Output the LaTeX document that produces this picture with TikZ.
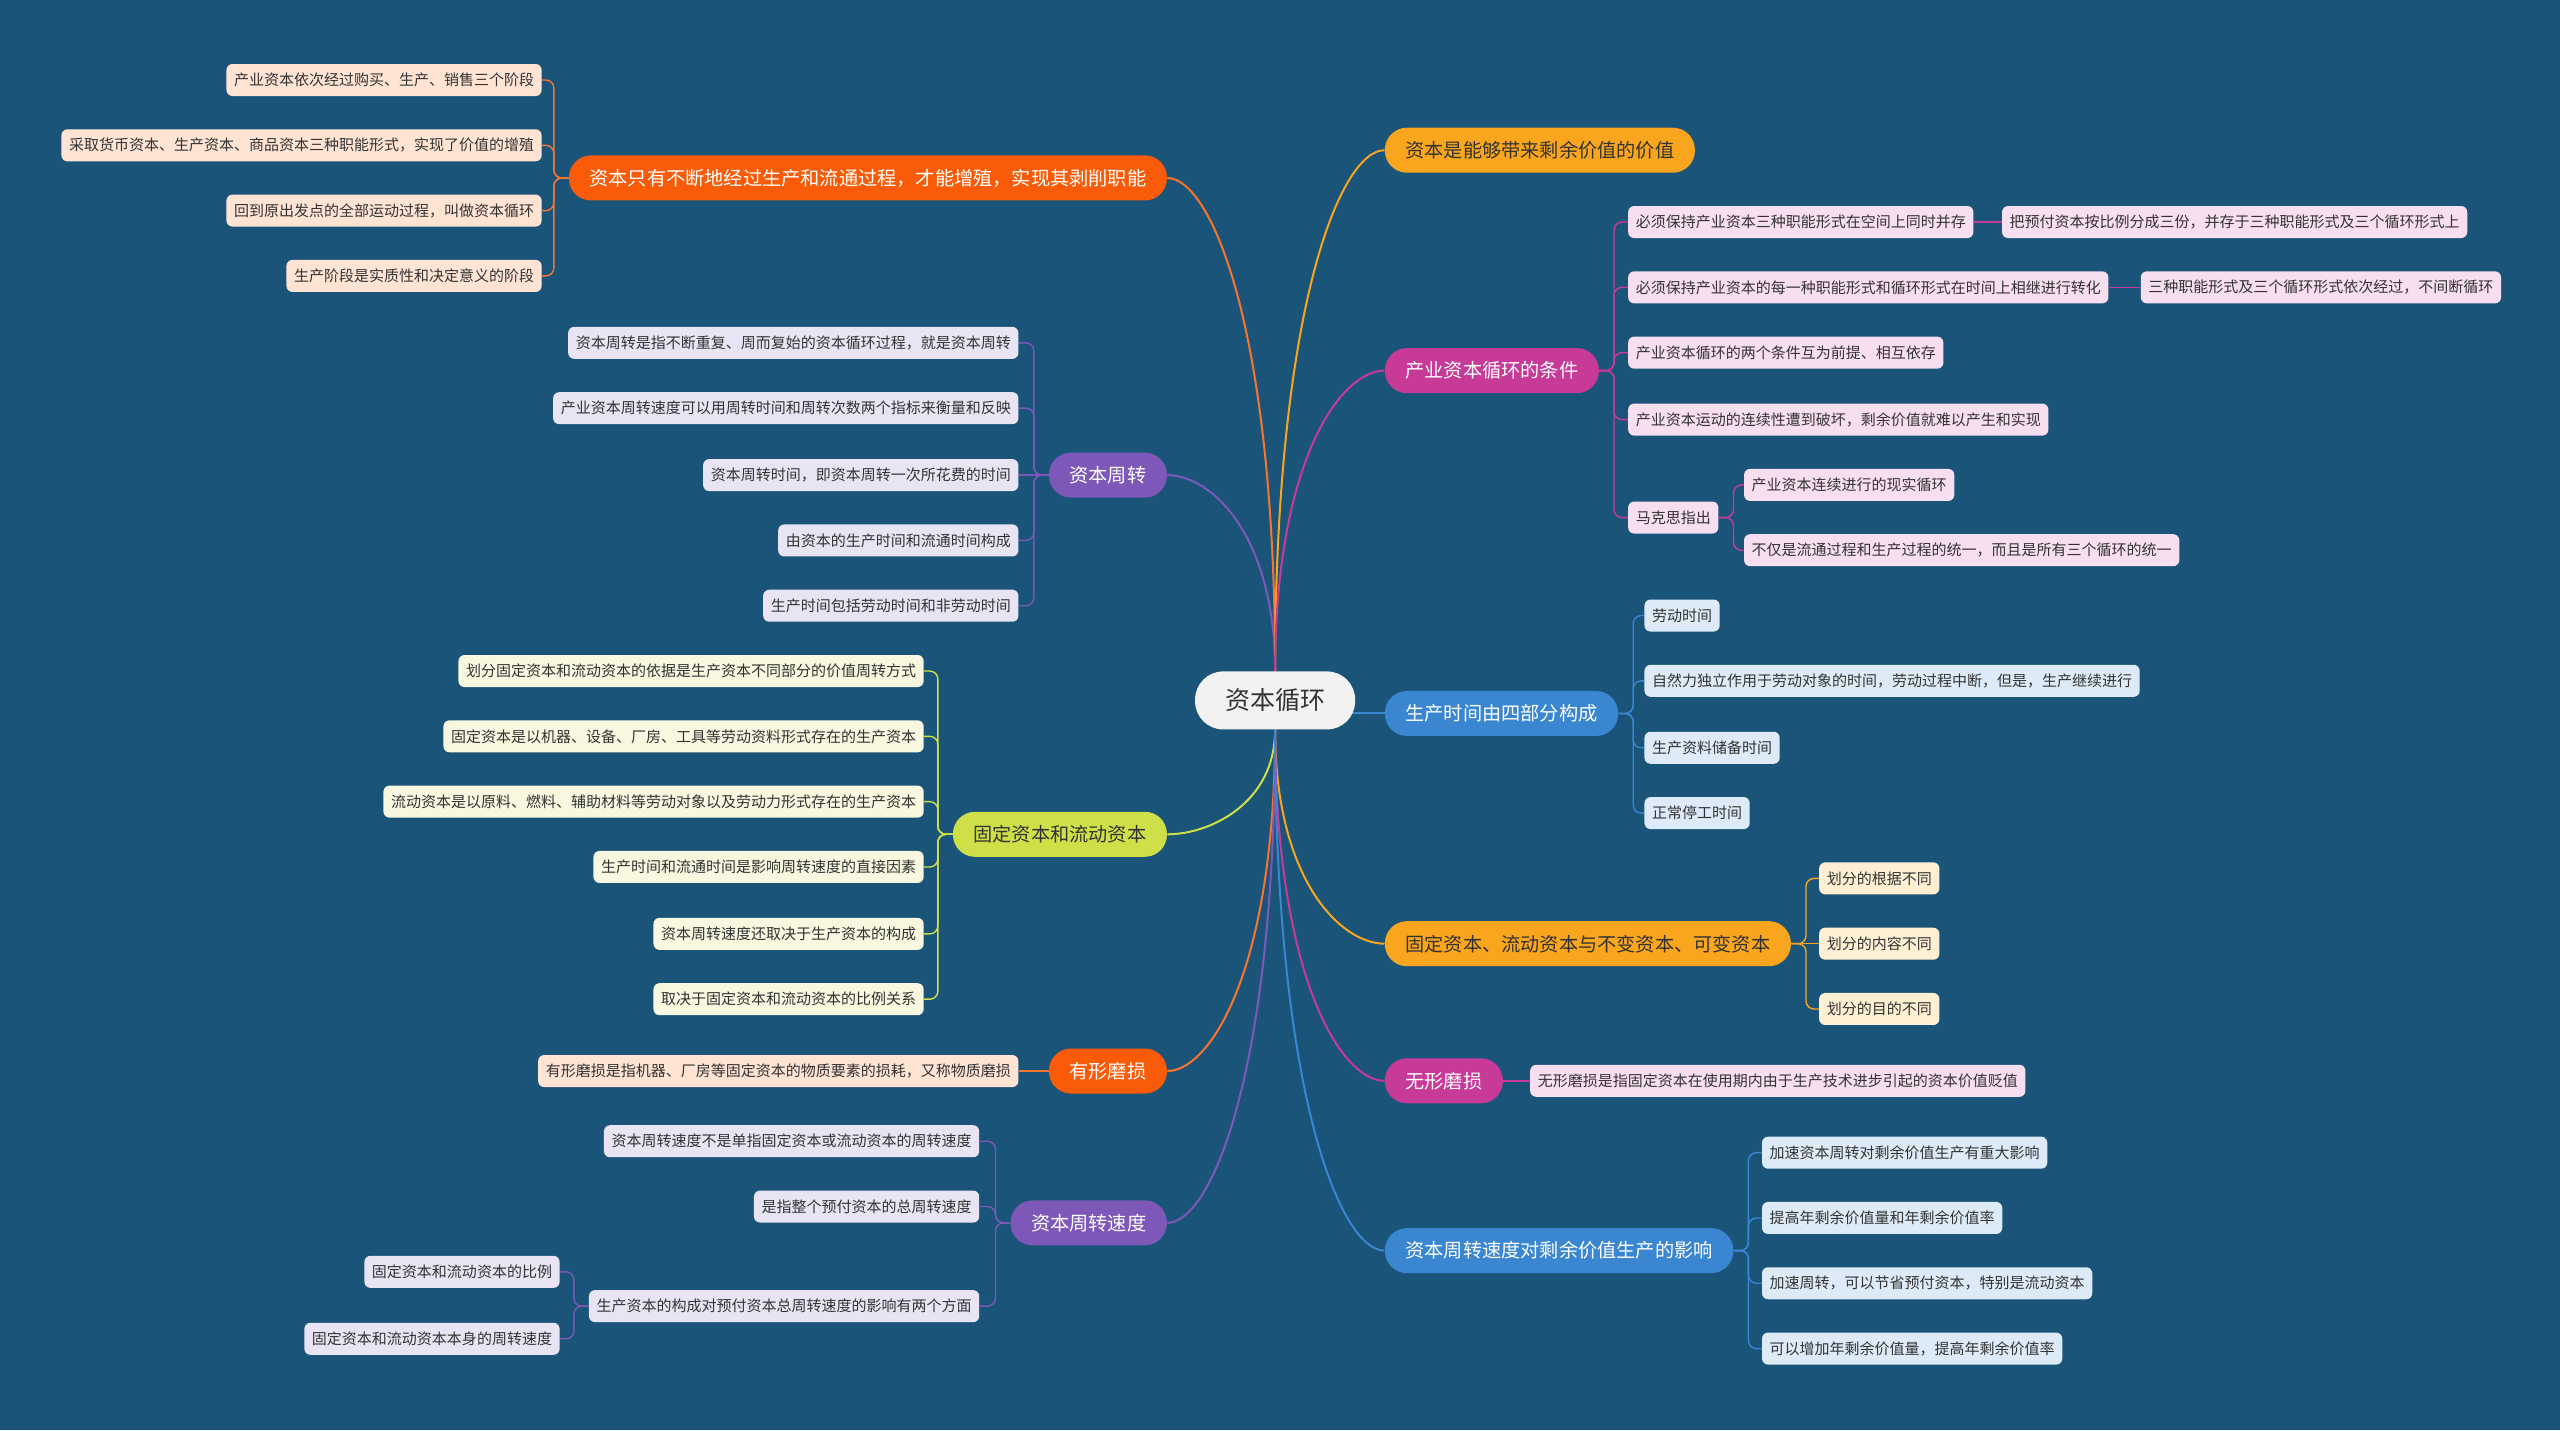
\documentclass[tikz,border=0pt]{standalone}
\usepackage{fontspec}
\setmainfont{Noto Sans CJK SC}
\usetikzlibrary{calc}
\pgfdeclarelayer{background}
\pgfsetlayers{background,main}

\definecolor{bgblue}{HTML}{1A5479}
\definecolor{hubgray}{HTML}{F2F2F2}
\definecolor{inkdark}{HTML}{333333}
\definecolor{redorange}{HTML}{F95B08}
\definecolor{peach}{HTML}{FFE4D4}
\definecolor{amber}{HTML}{F9A51D}
\definecolor{cream}{HTML}{FFF0D4}
\definecolor{rosy}{HTML}{C73A98}
\definecolor{pinkleaf}{HTML}{F8DEF1}
\definecolor{grape}{HTML}{7D58B8}
\definecolor{lilac}{HTML}{E9E4F4}
\definecolor{skyblue}{HTML}{3A86D1}
\definecolor{iceblue}{HTML}{DDEBF8}
\definecolor{chartreuse}{HTML}{CFDF47}
\definecolor{ivory}{HTML}{F7F8DF}

\begin{document}
\begin{tikzpicture}[x=0.8163pt, y=-0.8163pt,
	hub/.style={fill=hubgray, text=inkdark, rounded corners=14pt, minimum height=29pt, inner xsep=15pt, inner ysep=0pt, font=\fontsize{12.5}{14}\selectfont},
	limb/.style={rounded corners=11pt, minimum height=22.5pt, inner xsep=10.3pt, inner ysep=0pt, text=white, font=\fontsize{9.6}{11}\selectfont},
	twig/.style={rounded corners=3pt, minimum height=16pt, inner xsep=3.8pt, inner ysep=0pt, text=inkdark, font=\fontsize{7.5}{9}\selectfont},
	bough/.style={line width=1pt, to path={.. controls ($(\tikztostart)!0.7!(\tikztostart |- \tikztotarget)$) and ($(\tikztotarget)!0.4!(\tikztostart |- \tikztotarget)$) .. (\tikztotarget)}},
	forkl/.style={line width=0.7pt, rounded corners=4pt, to path={-- ++(-9,0) |- (\tikztotarget)}},
	forkr/.style={line width=0.7pt, rounded corners=4pt, to path={-- ++(9,0) |- (\tikztotarget)}}]

	\useasboundingbox (0,0) rectangle (1568,876);

	\node[hub] (hub) at (781,429) {资本循环};

	% left side
	\node[limb, fill=redorange, anchor=east] (a) at (715,109) {资本只有不断地经过生产和流通过程，才能增殖，实现其剥削职能};
	\node[twig, fill=peach, anchor=east] (a1) at (332,49) {产业资本依次经过购买、生产、销售三个阶段};
	\node[twig, fill=peach, anchor=east] (a2) at (332,89) {采取货币资本、生产资本、商品资本三种职能形式，实现了价值的增殖};
	\node[twig, fill=peach, anchor=east] (a3) at (332,129) {回到原出发点的全部运动过程，叫做资本循环};
	\node[twig, fill=peach, anchor=east] (a4) at (332,169) {生产阶段是实质性和决定意义的阶段};

	\node[limb, fill=grape, anchor=east] (b) at (715,291) {资本周转};
	\node[twig, fill=lilac, anchor=east] (b1) at (624,210) {资本周转是指不断重复、周而复始的资本循环过程，就是资本周转};
	\node[twig, fill=lilac, anchor=east] (b2) at (624,250) {产业资本周转速度可以用周转时间和周转次数两个指标来衡量和反映};
	\node[twig, fill=lilac, anchor=east] (b3) at (624,291) {资本周转时间，即资本周转一次所花费的时间};
	\node[twig, fill=lilac, anchor=east] (b4) at (624,331) {由资本的生产时间和流通时间构成};
	\node[twig, fill=lilac, anchor=east] (b5) at (624,371) {生产时间包括劳动时间和非劳动时间};

	\node[limb, fill=chartreuse, text=inkdark, anchor=east] (c) at (715,511) {固定资本和流动资本};
	\node[twig, fill=ivory, anchor=east] (c1) at (566,411) {划分固定资本和流动资本的依据是生产资本不同部分的价值周转方式};
	\node[twig, fill=ivory, anchor=east] (c2) at (566,451) {固定资本是以机器、设备、厂房、工具等劳动资料形式存在的生产资本};
	\node[twig, fill=ivory, anchor=east] (c3) at (566,491) {流动资本是以原料、燃料、辅助材料等劳动对象以及劳动力形式存在的生产资本};
	\node[twig, fill=ivory, anchor=east] (c4) at (566,531) {生产时间和流通时间是影响周转速度的直接因素};
	\node[twig, fill=ivory, anchor=east] (c5) at (566,572) {资本周转速度还取决于生产资本的构成};
	\node[twig, fill=ivory, anchor=east] (c6) at (566,612) {取决于固定资本和流动资本的比例关系};

	\node[limb, fill=redorange, anchor=east] (d) at (715,656) {有形磨损};
	\node[twig, fill=peach, anchor=east] (d1) at (624,656) {有形磨损是指机器、厂房等固定资本的物质要素的损耗，又称物质磨损};

	\node[limb, fill=grape, anchor=east] (e) at (715,749) {资本周转速度};
	\node[twig, fill=lilac, anchor=east] (e1) at (600,699) {资本周转速度不是单指固定资本或流动资本的周转速度};
	\node[twig, fill=lilac, anchor=east] (e2) at (600,739) {是指整个预付资本的总周转速度};
	\node[twig, fill=lilac, anchor=east] (e3) at (600,800) {生产资本的构成对预付资本总周转速度的影响有两个方面};
	\node[twig, fill=lilac, anchor=east] (e3a) at (343,779) {固定资本和流动资本的比例};
	\node[twig, fill=lilac, anchor=east] (e3b) at (343,820) {固定资本和流动资本本身的周转速度};

	% right side
	\node[limb, fill=amber, text=inkdark, anchor=west] (f) at (848,92) {资本是能够带来剩余价值的价值};

	\node[limb, fill=rosy, anchor=west] (g) at (848,227) {产业资本循环的条件};
	\node[twig, fill=pinkleaf, anchor=west] (g1) at (997,136) {必须保持产业资本三种职能形式在空间上同时并存};
	\node[twig, fill=pinkleaf, anchor=west] (g1a) at (1226,136) {把预付资本按比例分成三份，并存于三种职能形式及三个循环形式上};
	\node[twig, fill=pinkleaf, anchor=west] (g2) at (997,176) {必须保持产业资本的每一种职能形式和循环形式在时间上相继进行转化};
	\node[twig, fill=pinkleaf, anchor=west] (g2a) at (1311,176) {三种职能形式及三个循环形式依次经过，不间断循环};
	\node[twig, fill=pinkleaf, anchor=west] (g3) at (997,216) {产业资本循环的两个条件互为前提、相互依存};
	\node[twig, fill=pinkleaf, anchor=west] (g4) at (997,257) {产业资本运动的连续性遭到破坏，剩余价值就难以产生和实现};
	\node[twig, fill=pinkleaf, anchor=west] (g5) at (997,317) {马克思指出};
	\node[twig, fill=pinkleaf, anchor=west] (g5a) at (1068,297) {产业资本连续进行的现实循环};
	\node[twig, fill=pinkleaf, anchor=west] (g5b) at (1068,337) {不仅是流通过程和生产过程的统一，而且是所有三个循环的统一};

	\node[limb, fill=skyblue, anchor=west] (h) at (848,437) {生产时间由四部分构成};
	\node[twig, fill=iceblue, anchor=west] (h1) at (1007,377) {劳动时间};
	\node[twig, fill=iceblue, anchor=west] (h2) at (1007,417) {自然力独立作用于劳动对象的时间，劳动过程中断，但是，生产继续进行};
	\node[twig, fill=iceblue, anchor=west] (h3) at (1007,458) {生产资料储备时间};
	\node[twig, fill=iceblue, anchor=west] (h4) at (1007,498) {正常停工时间};

	\node[limb, fill=amber, text=inkdark, anchor=west] (i) at (848,578) {固定资本、流动资本与不变资本、可变资本};
	\node[twig, fill=cream, anchor=west] (i1) at (1114,538) {划分的根据不同};
	\node[twig, fill=cream, anchor=west] (i2) at (1114,578) {划分的内容不同};
	\node[twig, fill=cream, anchor=west] (i3) at (1114,618) {划分的目的不同};

	\node[limb, fill=rosy, anchor=west] (j) at (848,662) {无形磨损};
	\node[twig, fill=pinkleaf, anchor=west] (j1) at (937,662) {无形磨损是指固定资本在使用期内由于生产技术进步引起的资本价值贬值};

	\node[limb, fill=skyblue, anchor=west] (k) at (848,766) {资本周转速度对剩余价值生产的影响};
	\node[twig, fill=iceblue, anchor=west] (k1) at (1079,706) {加速资本周转对剩余价值生产有重大影响};
	\node[twig, fill=iceblue, anchor=west] (k2) at (1079,746) {提高年剩余价值量和年剩余价值率};
	\node[twig, fill=iceblue, anchor=west] (k3) at (1079,786) {加速周转，可以节省预付资本，特别是流动资本};
	\node[twig, fill=iceblue, anchor=west] (k4) at (1079,826) {可以增加年剩余价值量，提高年剩余价值率};

	\begin{pgfonlayer}{background}
	\fill[bgblue] (0,0) rectangle (1568,876);

	% main curves
	\draw[bough, redorange!85!white] (hub.north) to (a.east);
	\draw[bough, grape] (hub.north) to (b.east);
	\draw[bough, chartreuse] (hub.south) to (c.east);
	\draw[bough, redorange!85!white] (hub.south) to (d.east);
	\draw[bough, grape] (hub.south) to (e.east);
	\draw[bough, amber] (hub.north) to (f.west);
	\draw[bough, rosy] (hub.north) to (g.west);
	\draw[skyblue, line width=1pt] (hub.center |- h.west) -- (h.west);
	\draw[bough, amber] (hub.south) to (i.west);
	\draw[bough, rosy] (hub.south) to (j.west);
	\draw[bough, skyblue] (hub.south) to (k.west);

	% leaves
	\draw[forkl, redorange!85!white] (a.west) to (a1.east);
	\draw[forkl, redorange!85!white] (a.west) to (a2.east);
	\draw[forkl, redorange!85!white] (a.west) to (a3.east);
	\draw[forkl, redorange!85!white] (a.west) to (a4.east);

	\draw[forkl, grape] (b.west) to (b1.east);
	\draw[forkl, grape] (b.west) to (b2.east);
	\draw[grape, line width=0.7pt] (b.west) -- (b3.east);
	\draw[forkl, grape] (b.west) to (b4.east);
	\draw[forkl, grape] (b.west) to (b5.east);

	\draw[forkl, chartreuse] (c.west) to (c1.east);
	\draw[forkl, chartreuse] (c.west) to (c2.east);
	\draw[forkl, chartreuse] (c.west) to (c3.east);
	\draw[forkl, chartreuse] (c.west) to (c4.east);
	\draw[forkl, chartreuse] (c.west) to (c5.east);
	\draw[forkl, chartreuse] (c.west) to (c6.east);

	\draw[redorange!85!white, line width=0.7pt] (d.west) -- (d1.east);

	\draw[forkl, grape] (e.west) to (e1.east);
	\draw[forkl, grape] (e.west) to (e2.east);
	\draw[forkl, grape] (e.west) to (e3.east);
	\draw[forkl, grape] (e3.west) to (e3a.east);
	\draw[forkl, grape] (e3.west) to (e3b.east);

	\draw[forkr, rosy] (g.east) to (g1.west);
	\draw[forkr, rosy] (g.east) to (g2.west);
	\draw[forkr, rosy] (g.east) to (g3.west);
	\draw[forkr, rosy] (g.east) to (g4.west);
	\draw[forkr, rosy] (g.east) to (g5.west);
	\draw[rosy, line width=0.7pt] (g1.east) -- (g1a.west);
	\draw[rosy, line width=0.7pt] (g2.east) -- (g2a.west);
	\draw[forkr, rosy] (g5.east) to (g5a.west);
	\draw[forkr, rosy] (g5.east) to (g5b.west);

	\draw[forkr, skyblue] (h.east) to (h1.west);
	\draw[forkr, skyblue] (h.east) to (h2.west);
	\draw[forkr, skyblue] (h.east) to (h3.west);
	\draw[forkr, skyblue] (h.east) to (h4.west);

	\draw[forkr, amber] (i.east) to (i1.west);
	\draw[amber, line width=0.7pt] (i.east) -- (i2.west);
	\draw[forkr, amber] (i.east) to (i3.west);

	\draw[rosy, line width=0.7pt] (j.east) -- (j1.west);

	\draw[forkr, skyblue] (k.east) to (k1.west);
	\draw[forkr, skyblue] (k.east) to (k2.west);
	\draw[forkr, skyblue] (k.east) to (k3.west);
	\draw[forkr, skyblue] (k.east) to (k4.west);
	\end{pgfonlayer}
\end{tikzpicture}
\end{document}
